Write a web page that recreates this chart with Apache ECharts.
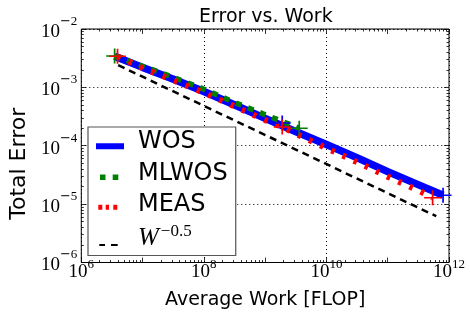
<!DOCTYPE html>
<html>
<head>
<meta charset="utf-8">
<script src="https://cdn.jsdelivr.net/npm/echarts@6/dist/echarts.min.js"></script>
<style>
  html, body { margin: 0; padding: 0; background: #fff; }
  #chart { width: 470px; height: 321px; }
</style>
</head>
<body>
<div id="chart"></div>
<script>
// values
const workWOS = [3.5e6, 1e7, 3.2e7, 1e8, 3.2e8, 1e9, 3.2e9, 1e10, 3.2e10, 1e11, 3.2e11, 8e11];
const errWOS = [3.4e-3, 2.2e-3, 1.38e-3, 8.5e-4, 5.0e-4, 2.95e-4, 1.74e-4, 1.05e-4, 6.2e-5, 3.6e-5, 2.14e-5, 1.42e-5];

const workMLWOS = [3.5e6, 1e7, 3.2e7, 1e8, 3.2e8, 1e9, 3.6e9];
const errMLWOS = [3.45e-3, 2.3e-3, 1.48e-3, 9.3e-4, 5.5e-4, 3.4e-4, 2.0e-4];

const workMEAS = [3.9e6, 1e7, 3.2e7, 1e8, 3.2e8, 1e9, 1.9e9, 3.2e9, 1e10, 3.2e10, 1e11, 3.2e11, 5.4e11];
const errMEAS = [3.4e-3, 2.14e-3, 1.32e-3, 8.1e-4, 4.7e-4, 2.75e-4, 2.1e-4, 1.6e-4, 9.1e-5, 5.2e-5, 2.95e-5, 1.7e-5, 1.29e-5];

const workRef = [4e6, 6.2e11];
const errRef = [2.4e-3, 6.2e-6];

// error bar crosses
const barsWOS = [[1.9e9, 2.45e-4], [8e11, 1.42e-5]];
const barsMLWOS = [[3.5e6, 3.45e-3], [3.6e9, 2.0e-4]];
const barsMEAS = [[3.9e6, 3.4e-3], [1.9e9, 2.1e-4], [5.4e11, 1.29e-5]];

const xMajor = [1e6, 1e7, 1e8, 1e9, 1e10, 1e11, 1e12];
const yMajor = [1e-6, 1e-5, 1e-4, 1e-3, 1e-2];

const names = ['WOS', 'MLWOS', 'MEAS', 'W^-0.5'];

function minorTicks(majors) {
  const out = [];
  for (let i = 0; i < majors.length - 1; i++) {
    for (let k = 2; k <= 9; k++) out.push(majors[i] * k);
  }
  return out;
}
const xMinor = minorTicks(xMajor);
const yMinor = minorTicks(yMajor);

function pairs(xs, ys) {
  return xs.map((x, i) => [x, ys[i]]);
}

const PLUS = 'path://M0,7.2H16V8.8H0Z M7.2,0H8.8V16H7.2Z';
const SPECK = 'M0,0h0.01v0.01h-0.01Z M36.99,19.99h0.01v0.01h-0.01Z ';
const icons = {
  WOS: 'path://' + SPECK + 'M0,11.3H28V17.3H0Z',
  MLWOS: 'path://' + SPECK + 'M4,10.9H9.5V16.5H4Z M16.7,10.9H22.3V16.5H16.7Z',
  MEAS: 'path://' + SPECK + 'M2.3,9.8H6.3V14.8H2.3Z M9.7,9.8H13V14.8H9.7Z M17.3,9.8H21.3V14.8H17.3Z',
  'W^-0.5': 'path://' + SPECK + 'M3.3,16H9V18H3.3Z M15,16H21.7V18H15Z'
};

function tickLabel(v) {
  const e = Math.round(Math.log10(v));
  return e < 0 ? '{b|10}{m|\u2212}{s|' + (-e) + '}' : '{b|10}{s|' + e + '}';
}

const labelRich = {
  b: { fontFamily: 'Liberation Serif', fontSize: 19, lineHeight: 19, color: '#000' },
  s: { fontFamily: 'Liberation Serif', fontSize: 13, lineHeight: 13, padding: [0, 0, 15, 0], color: '#000' },
  m: { fontFamily: 'DejaVu Serif', fontSize: 13, lineHeight: 13, padding: [0, 0, 15, 0], color: '#000' }
};
const yLabelRich = Object.assign({}, labelRich, {
  b: { fontFamily: 'Liberation Serif', fontSize: 19, lineHeight: 19, padding: [6, 0, 0, 0], color: '#000' }
});

function tickAxis(pos, min, max, values, len) {
  return {
    type: 'log', logBase: 10, position: pos, min: min, max: max,
    axisLine: { show: false },
    axisLabel: { show: false },
    splitLine: { show: false },
    axisTick: { show: true, inside: true, length: len, customValues: values,
      lineStyle: { color: '#000', width: 0.8 } }
  };
}

const chart = echarts.init(document.getElementById('chart'));
chart.setOption({
  animation: false,
  backgroundColor: '#fff',
  textStyle: { fontFamily: 'DejaVu Sans' },
  title: {
    text: 'Error vs. Work',
    left: 199, top: 8, padding: 0,
    textStyle: { fontFamily: 'DejaVu Sans', fontSize: 19, fontWeight: 'normal', color: '#000' }
  },
  grid: {
    left: 81, right: 21, top: 29, bottom: 58.5,
    show: true, borderColor: '#000', borderWidth: 1, backgroundColor: 'transparent'
  },
  legend: {
    orient: 'vertical',
    left: 88, top: 127,
    padding: [2, 8, 3, 8],
    itemGap: 5.5,
    itemWidth: 37, itemHeight: 20,
    backgroundColor: '#fff',
    borderColor: '#555', borderWidth: 1.2,
    data: [
      { name: 'WOS', icon: icons.WOS, itemStyle: { color: '#0000ff' } },
      { name: 'MLWOS', icon: icons.MLWOS, itemStyle: { color: '#008000' } },
      { name: 'MEAS', icon: icons.MEAS, itemStyle: { color: '#ff0000' } },
      { name: 'W^-0.5', icon: icons['W^-0.5'], itemStyle: { color: '#000' } }
    ],
    formatter: function (name) {
      return name === 'W^-0.5' ? '{w|W}{e|\u22120.5}' : name;
    },
    textStyle: {
      fontFamily: 'DejaVu Sans', fontSize: 24, lineHeight: 26, color: '#000',
      rich: {
        w: { fontFamily: 'Liberation Serif', fontStyle: 'italic', fontSize: 25, lineHeight: 26, color: '#000' },
        e: { fontFamily: 'Liberation Serif', fontSize: 17, lineHeight: 17, padding: [0, 0, 12, 2], color: '#000' }
      }
    }
  },
  xAxis: [
    {
      type: 'log', logBase: 10, position: 'bottom', min: 1e6, max: 1e12, interval: 2,
      name: 'Average Work [FLOP]', nameLocation: 'middle', nameGap: 28,
      nameTextStyle: { fontFamily: 'DejaVu Sans', fontSize: 19, color: '#000' },
      axisLine: { show: false },
      axisTick: { show: false },
      axisLabel: { formatter: tickLabel, margin: 0, rich: labelRich },
      splitLine: { show: true, lineStyle: { color: '#000', width: 1, type: [1, 3] } }
    },
    tickAxis('bottom', 1e6, 1e12, xMajor, 5),
    tickAxis('bottom', 1e6, 1e12, xMinor, 2.5),
    tickAxis('top', 1e6, 1e12, xMajor, 5),
    tickAxis('top', 1e6, 1e12, xMinor, 2.5)
  ],
  yAxis: [
    {
      type: 'log', logBase: 10, position: 'left', min: 1e-6, max: 1e-2, interval: 1,
      name: 'Total Error', nameLocation: 'middle', nameGap: 49, nameRotate: 90,
      nameTextStyle: { fontFamily: 'DejaVu Sans', fontSize: 22, color: '#000', padding: [0, 36, 0, 0] },
      axisLine: { show: false },
      axisTick: { show: false },
      axisLabel: { formatter: tickLabel, margin: 4, rich: yLabelRich },
      splitLine: { show: true, lineStyle: { color: '#000', width: 1, type: [1, 3] } }
    },
    tickAxis('left', 1e-6, 1e-2, yMajor, 5),
    tickAxis('left', 1e-6, 1e-2, yMinor, 2.5),
    tickAxis('right', 1e-6, 1e-2, yMajor, 5),
    tickAxis('right', 1e-6, 1e-2, yMinor, 2.5)
  ],
  series: [
    {
      name: names[0], type: 'line', symbol: 'none', z: 3,
      data: pairs(workWOS, errWOS),
      lineStyle: { color: '#0000ff', width: 7.5 }
    },
    {
      name: names[1], type: 'line', symbol: 'none', z: 4,
      data: pairs(workMLWOS, errMLWOS),
      lineStyle: { color: '#008000', width: 5.5, type: [6, 7], cap: 'butt' }
    },
    {
      name: names[2], type: 'line', symbol: 'none', z: 5,
      data: pairs(workMEAS, errMEAS),
      lineStyle: { color: '#ff0000', width: 6, type: [3.5, 8.8], cap: 'butt' }
    },
    {
      name: names[3], type: 'line', symbol: 'none', z: 5,
      data: pairs(workRef, errRef),
      lineStyle: { color: '#000', width: 2.5, type: [7, 5], cap: 'butt' }
    },
    { type: 'scatter', symbol: PLUS, symbolSize: [17, 15], z: 6, data: barsWOS, itemStyle: { color: '#0000ff', opacity: 1 } },
    { type: 'scatter', symbol: PLUS, symbolSize: [17, 15], z: 6, data: barsMLWOS, itemStyle: { color: '#008000', opacity: 1 } },
    { type: 'scatter', symbol: PLUS, symbolSize: [17, 15], z: 7, data: barsMEAS, itemStyle: { color: '#ff0000', opacity: 1 } }
  ]
});
</script>
</body>
</html>
